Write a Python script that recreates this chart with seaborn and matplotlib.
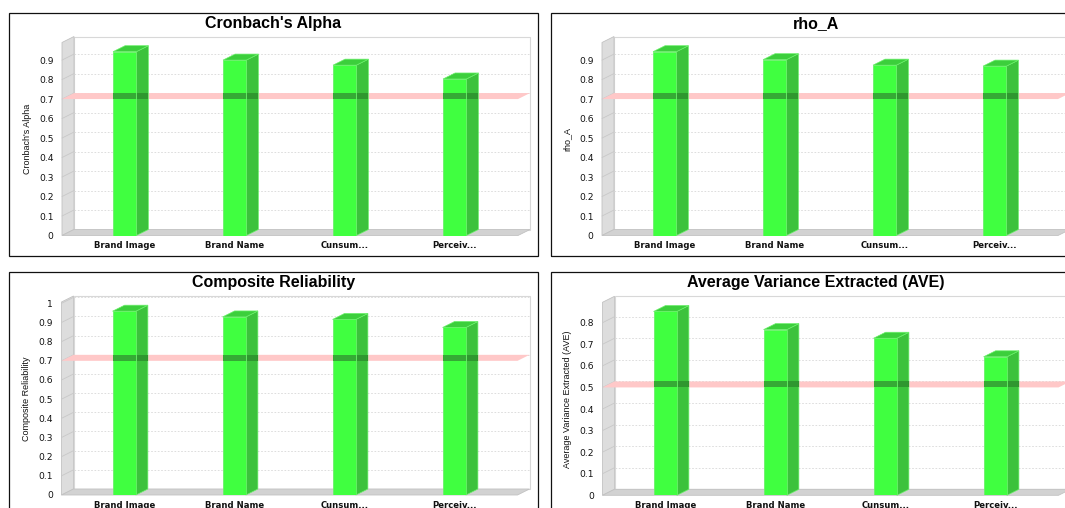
import numpy as np
import pandas as pd
import matplotlib
matplotlib.use("Agg")
import matplotlib.pyplot as plt
import seaborn as sns
from matplotlib.patches import Polygon, Rectangle

# Quality criteria of the measurement model, one value per construct
constructs = ["Brand Image", "Brand Name", "Cunsum...", "Perceiv..."]
cronbach_alpha = [0.943, 0.900, 0.874, 0.803]
rho_a = [0.943, 0.902, 0.874, 0.869]
composite_reliability = [0.959, 0.929, 0.916, 0.874]
ave = [0.852, 0.768, 0.728, 0.642]
criteria = ["Cronbach's Alpha", "rho_A", "Composite Reliability",
            "Average Variance Extracted (AVE)"]
thresholds = [0.7, 0.7, 0.7, 0.5]
series = [cronbach_alpha, rho_a, composite_reliability, ave]

W, H = 1065, 508
sns.set_style("white")
plt.rcParams["font.family"] = ["DejaVu Sans"]

fig = plt.figure(figsize=(W / 100, H / 100), dpi=100)
fig.patch.set_facecolor("white")

FRONT, SIDE, TOP, EDGE = "#40ff40", "#3cc23c", "#3ccf3c", "#6af06a"
BAND, BAND_FRONT, BAND_SIDE = "#ffc8c8", "#35aa35", "#2f972f"
WALL, FLOOR, GRID, WALL_EDGE = "#dddddd", "#d2d2d2", "#d8d8d8", "#c2c2c2"
DX_PX, DY_PX = 12, 6          # depth offset of the pseudo-3D rendering
AX_W, AX_H = 456, 193         # front plot area in pixels
XL, XR = -0.57, 3.575

# panel frames (left, top, right, bottom) and front plot-area anchors, in pixels
panels = [
    dict(box=(9, 13, 538, 256), left=62, bottom=235.5),
    dict(box=(551, 13, 1080, 256), left=602, bottom=235.5),
    dict(box=(9, 272, 538, 515), left=61.5, bottom=495),
    dict(box=(551, 272, 1080, 515), left=602.5, bottom=495.3),
]

for spec, name, vals, thr in zip(panels, criteria, series, thresholds):
    bl, bt, br, bb = spec["box"]
    fig.add_artist(Rectangle((bl / W, 1 - bb / H), (br - bl) / W, (bb - bt) / H,
                             transform=fig.transFigure, fill=False,
                             edgecolor="#111111", linewidth=0.9))
    fig.text((bl + br) / 2 / W, 1 - (bt + 10.5) / H, name, ha="center", va="center",
             fontsize=11.5, fontweight="bold", family="Liberation Sans",
             color="black")

    ax = fig.add_axes([spec["left"] / W, 1 - spec["bottom"] / H, AX_W / W, AX_H / H])
    ax.set_facecolor("none")
    df = pd.DataFrame({"Construct": constructs, "Value": vals})
    sns.barplot(data=df, x="Construct", y="Value", ax=ax, color=FRONT,
                saturation=1, width=0.212, edgecolor=EDGE, linewidth=0.6,
                zorder=5)
    bars = list(ax.patches)

    ymax = max(vals) * 1.05
    ax.set_xlim(XL, XR)
    ax.set_ylim(0, ymax)
    dx = DX_PX * (XR - XL) / AX_W
    dy = DY_PX * ymax / AX_H

    def poly(pts, **kw):
        ax.add_patch(Polygon(pts, closed=True, clip_on=False, **kw))

    # back wall, left wall and floor
    poly([(XL + dx, dy), (XR + dx, dy), (XR + dx, ymax + dy), (XL + dx, ymax + dy)],
         facecolor="white", edgecolor="#d8d8d8", linewidth=0.8, zorder=0)
    poly([(XL, 0), (XL + dx, dy), (XL + dx, ymax + dy), (XL, ymax)],
         facecolor=WALL, edgecolor=WALL_EDGE, linewidth=0.6, zorder=1)
    poly([(XL, 0), (XR, 0), (XR + dx, dy), (XL + dx, dy)],
         facecolor=FLOOR, edgecolor=WALL_EDGE, linewidth=0.6, zorder=1)

    ticks = np.round(np.arange(0, ymax, 0.1), 1)
    for v in ticks[1:]:
        ax.plot([XL + dx, XR + dx], [v + dy, v + dy], color=GRID, lw=0.6,
                dashes=(2, 2), zorder=2, clip_on=False)
        ax.plot([XL, XL + dx], [v, v + dy], color="#c8c8c8", lw=0.6,
                zorder=2, clip_on=False)

    # threshold marker as a plane through the plot depth
    poly([(XL, thr), (XR, thr), (XR + dx, thr + dy), (XL + dx, thr + dy)],
         facecolor=BAND, edgecolor="none", zorder=3)

    # side and top faces of each bar, plus the marker seen through the bar
    for bar in bars:
        x0 = bar.get_x()
        x1 = x0 + bar.get_width()
        h = bar.get_height()
        poly([(x1, 0), (x1 + dx, dy), (x1 + dx, h + dy), (x1, h)],
             facecolor=SIDE, edgecolor=EDGE, linewidth=0.5, zorder=4)
        poly([(x0, h), (x0 + dx, h + dy), (x1 + dx, h + dy), (x1, h)],
             facecolor=TOP, edgecolor=EDGE, linewidth=0.5, zorder=4)
        poly([(x1, thr), (x1 + dx, thr), (x1 + dx, thr + dy), (x1, thr + dy)],
             facecolor=BAND_SIDE, edgecolor="none", zorder=4.5)
        poly([(x0, thr), (x1, thr), (x1, thr + dy), (x0, thr + dy)],
             facecolor=BAND_FRONT, edgecolor="none", zorder=6)

    for s in ax.spines.values():
        s.set_visible(False)
    ax.set_yticks(ticks)
    ax.set_yticklabels([f"{v:g}" for v in ticks])
    ax.tick_params(axis="y", length=3, width=0.6, color="#888888", pad=3,
                   labelsize=6.6, labelcolor="#111111")
    ax.tick_params(axis="x", length=0, pad=4, labelsize=6.1, labelcolor="#111111")
    for lab in ax.get_xticklabels():
        lab.set_fontweight("bold")
    ax.set_xlabel("")
    ax.set_ylabel(name, fontsize=6.5, family="Liberation Sans", color="#111111")
    ax.yaxis.set_label_coords(-0.066, 0.5)

fig.savefig("out.png", dpi=100, facecolor="white")
